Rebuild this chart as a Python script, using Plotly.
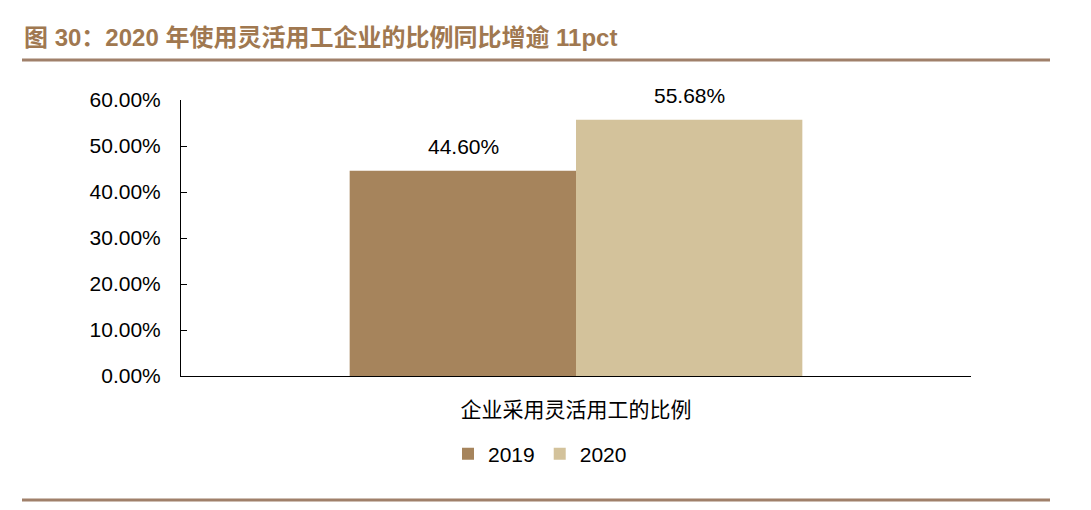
import plotly.graph_objects as go

categories = ["企业采用灵活用工的比例"]
series_names = ["2019", "2020"]
values_2019 = [0.4460]
values_2020 = [0.5568]
series_values = [values_2019, values_2020]
colors = ["#A6845C", "#D3C29B"]
title_text = "图 30：2020 年使用灵活用工企业的比例同比增逾 11pct"

fig = go.Figure()
for name, vals, col in zip(series_names, series_values, colors):
    fig.add_trace(go.Bar(
        x=categories, y=vals, name=name, marker=dict(color=col, line=dict(width=0)),
        hoverinfo="skip",
    ))

# data labels
offsets = [-113, 113]
for vals, off in zip(series_values, offsets):
    for c, v in zip(categories, vals):
        fig.add_annotation(x=c, y=v, xref="x", yref="y", text=f"{v*100:.2f}%",
                           showarrow=False, xshift=off, yanchor="bottom", yshift=11,
                           font=dict(size=21, color="#000000", family="Liberation Sans, Arial"))

L, R, T, B = 181, 971, 100, 376
W, H = R - L, B - T
def px(x):
    return (x - L) / W
def py(y):
    return (B - y) / H

fig.add_annotation(text=f"<b>{title_text}</b>", xref="paper", yref="paper",
                   x=px(22), y=py(37), xanchor="left", yanchor="middle", showarrow=False,
                   font=dict(size=24, color="#A07850", family="Liberation Sans, Noto Sans CJK SC"))
for yy in (60, 500):
    fig.add_shape(type="line", xref="paper", yref="paper", x0=px(22), x1=px(1050),
                  y0=py(yy), y1=py(yy), line=dict(color="#A0806A", width=3))

fig.update_layout(
    width=1091, height=510,
    margin=dict(l=L, r=1091 - R, t=T, b=510 - B),
    paper_bgcolor="white", plot_bgcolor="white",
    barmode="group", bargap=0.427, bargroupgap=0,
    showlegend=True,
    legend=dict(orientation="h", x=px(540), xanchor="center", y=py(454), yanchor="middle",
                font=dict(size=21, color="#000000", family="Liberation Sans, Arial"),
                itemwidth=30, traceorder="normal", itemsizing="constant"),
    font=dict(family="Liberation Sans, Arial", color="#000000"),
)
fig.update_xaxes(
    showline=True, linecolor="#000000", linewidth=1,
    ticks="inside", tickson="boundaries", ticklen=7, tickcolor="#000000",
    ticklabelstandoff=15,
    tickfont=dict(size=21, family="Noto Sans CJK SC", color="#000000"),
    showgrid=False, zeroline=False, range=[-0.5, 0.5],
)
fig.update_yaxes(
    range=[0, 0.6], dtick=0.1, tickformat=".2%",
    showline=True, linecolor="#000000", linewidth=1,
    ticks="inside", ticklen=6, tickcolor="#000000",
    tickfont=dict(size=21, family="Liberation Sans, Arial", color="#000000"),
    showgrid=False, zeroline=False, ticklabelstandoff=15,
)

fig.write_html("out.html")
